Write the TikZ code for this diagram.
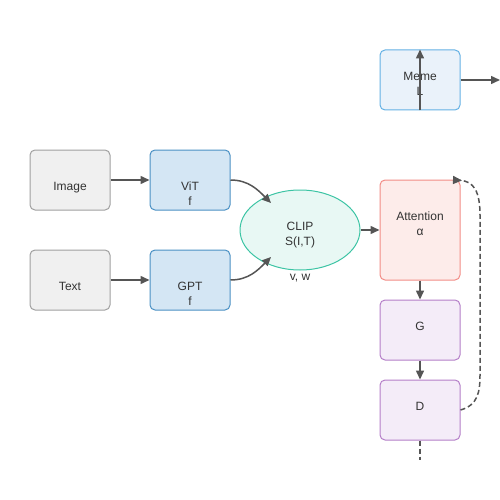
\documentclass[tikz,border=0pt]{standalone}
\usepackage{fontspec}
\setmainfont{Liberation Sans}
\usetikzlibrary{arrows.meta,shapes.geometric}
\definecolor{txt}{HTML}{333333}
\definecolor{arr}{HTML}{555555}
\definecolor{grayfill}{HTML}{F0F0F0}
\definecolor{graystroke}{HTML}{A0A0A0}
\definecolor{bluefill}{HTML}{D4E6F4}
\definecolor{bluestroke}{HTML}{4A90C4}
\definecolor{clipfill}{HTML}{E8F8F4}
\definecolor{clipstroke}{HTML}{3CC4A4}
\definecolor{attfill}{HTML}{FDECEA}
\definecolor{attstroke}{HTML}{F28C86}
\definecolor{purfill}{HTML}{F4ECF8}
\definecolor{purstroke}{HTML}{B47EC8}
\definecolor{memefill}{HTML}{EAF2FA}
\definecolor{memestroke}{HTML}{64B0E4}
\begin{document}
\begin{tikzpicture}[x=1pt,y=-1pt,
  box/.style={draw,rounded corners=5pt,line width=1pt,inner sep=0pt,minimum width=80pt},
  lbl/.style={text=txt,font=\fontsize{12}{15}\selectfont,align=center,inner sep=0pt,anchor=base},
  conn/.style={draw=arr,line width=1.5pt,-{Triangle[length=9pt,width=8pt]}},
  dash line/.style={draw=arr,line width=1.5pt,dash pattern=on 5pt off 3pt}]
\useasboundingbox (0,0) rectangle (500,500);
% boxes
\node[box,draw=graystroke,fill=grayfill,minimum height=60pt] (img) at (70,180) {};
\node[box,draw=bluestroke,fill=bluefill,minimum height=60pt] (vit) at (190,180) {};
\node[box,draw=graystroke,fill=grayfill,minimum height=60pt] (txtb) at (70,280) {};
\node[box,draw=bluestroke,fill=bluefill,minimum height=60pt] (gpt) at (190,280) {};
\node[draw=clipstroke,fill=clipfill,line width=1pt,ellipse,minimum width=120pt,minimum height=80pt,inner sep=0pt] (clip) at (300,230) {};
\node[box,draw=attstroke,fill=attfill,minimum height=100pt] (att) at (420,230) {};
\node[box,draw=purstroke,fill=purfill,minimum height=60pt] (g) at (420,330) {};
\node[box,draw=purstroke,fill=purfill,minimum height=60pt] (d) at (420,410) {};
\node[box,draw=memestroke,fill=memefill,minimum height=60pt] (meme) at (420,80) {};
% labels (placed by baseline)
\node[lbl] (limg) at (70,190.3) {Image};
\node[lbl] (lvit) at (190,190.3) {ViT};
\node[lbl] (lvitf) at (190,205.3) {f};
\node[lbl] (ltxt) at (70,290.3) {Text};
\node[lbl] (lgpt) at (190,290.3) {GPT};
\node[lbl] (lgptf) at (190,305.3) {f};
\node[lbl] (lclip) at (300,230.3) {CLIP};
\node[lbl] (lclips) at (300,245.3) {S(I,T)};
\node[lbl] (lvw) at (300,280.3) {v, w};
\node[lbl] (latt) at (420,220.3) {Attention};
\node[lbl] (latta) at (420,235.3) {α};
\node[lbl] (lg) at (420,330.3) {G};
\node[lbl] (ld) at (420,410.3) {D};
\node[lbl] (lmeme) at (420,80.3) {Meme};
\node[lbl] (lmemel) at (420,95.3) {L};
% coordinates
\coordinate (vitin) at (271,203);
\coordinate (gptin) at (271,257);
\coordinate (memeout) at (500,80);
\coordinate (dout) at (420,460);
\coordinate (loopend) at (453,180);
% connectors
\draw[conn] (img.east) -- (vit.west);
\draw[conn] (txtb.east) -- (gpt.west);
\draw[conn] (vit.east) to[out=0,in=135] (vitin);
\draw[conn] (gpt.east) to[out=0,in=-135] (gptin);
\draw[conn] (clip.east) -- (att.west);
\draw[conn] (att.south) -- (g.north);
\draw[conn] (g.south) -- (d.north);
\draw[conn] (meme.south) -- (meme.north);
\draw[conn] (meme.east) -- (memeout);
\draw[dash line] (d.south) -- (dout);
\draw[dash line,-{Triangle[reversed,length=9pt,width=8pt]}] (d.east) .. controls (478,405) and (480,392) .. (480,375) -- (480,215) .. controls (480,192) and (474,181) .. (loopend);
\end{tikzpicture}
\end{document}
